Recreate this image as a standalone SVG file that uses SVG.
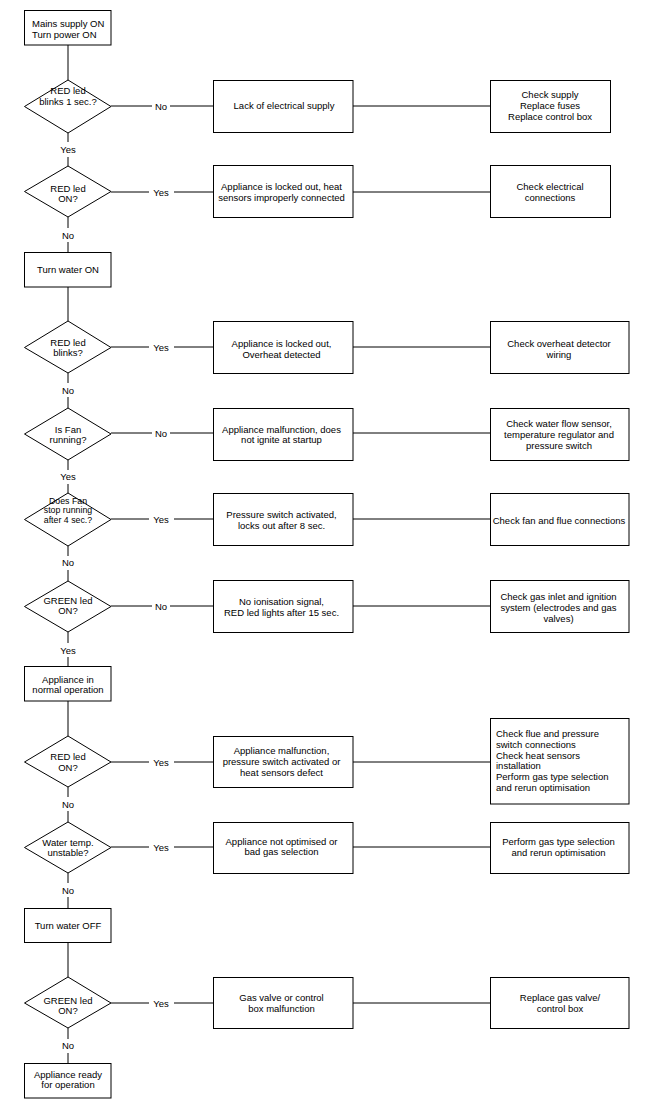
<svg xmlns="http://www.w3.org/2000/svg" width="651" height="1103" viewBox="0 0 651 1103">
<style>
  .box { fill: #ffffff; stroke: #000000; stroke-width: 1; }
  .ln { stroke: #000000; stroke-width: 1; fill: none; }
  text { font-family: "Liberation Sans", Arial, sans-serif; font-size: 9.5px; fill: #000000; }
  .c { text-anchor: middle; }
  .lbl { text-anchor: middle; }
</style>
<rect x="0" y="0" width="651" height="1103" fill="#ffffff"/>

<g id="connectors">
  <!-- vertical main flow -->
  <line class="ln" x1="68" y1="45" x2="68" y2="80"/>
  <line class="ln" x1="68" y1="133" x2="68" y2="142"/>
  <line class="ln" x1="68" y1="157" x2="68" y2="166"/>
  <line class="ln" x1="68" y1="217" x2="68" y2="228"/>
  <line class="ln" x1="68" y1="242" x2="68" y2="252"/>
  <line class="ln" x1="68" y1="287" x2="68" y2="321"/>
  <line class="ln" x1="68" y1="373" x2="68" y2="383"/>
  <line class="ln" x1="68" y1="397" x2="68" y2="408"/>
  <line class="ln" x1="68" y1="460" x2="68" y2="470"/>
  <line class="ln" x1="68" y1="484" x2="68" y2="493"/>
  <line class="ln" x1="68" y1="546" x2="68" y2="556"/>
  <line class="ln" x1="68" y1="570" x2="68" y2="581"/>
  <line class="ln" x1="68" y1="632" x2="68" y2="643"/>
  <line class="ln" x1="68" y1="657" x2="68" y2="666"/>
  <line class="ln" x1="68" y1="701" x2="68" y2="736"/>
  <line class="ln" x1="68" y1="787" x2="68" y2="797"/>
  <line class="ln" x1="68" y1="811" x2="68" y2="822"/>
  <line class="ln" x1="68" y1="873" x2="68" y2="883"/>
  <line class="ln" x1="68" y1="897" x2="68" y2="908"/>
  <line class="ln" x1="68" y1="942" x2="68" y2="977"/>
  <line class="ln" x1="68" y1="1028" x2="68" y2="1039"/>
  <line class="ln" x1="68" y1="1053" x2="68" y2="1063"/>
  <!-- horizontal branches -->
  <line class="ln" x1="111" y1="106" x2="152" y2="106"/><line class="ln" x1="170" y1="106" x2="213" y2="106"/><line class="ln" x1="353" y1="106" x2="490" y2="106"/>
  <line class="ln" x1="111" y1="192" x2="149" y2="192"/><line class="ln" x1="174" y1="192" x2="213" y2="192"/><line class="ln" x1="353" y1="192" x2="490" y2="192"/>
  <line class="ln" x1="111" y1="347" x2="149" y2="347"/><line class="ln" x1="174" y1="347" x2="213" y2="347"/><line class="ln" x1="353" y1="347" x2="490" y2="347"/>
  <line class="ln" x1="111" y1="433" x2="152" y2="433"/><line class="ln" x1="170" y1="433" x2="213" y2="433"/><line class="ln" x1="353" y1="433" x2="490" y2="433"/>
  <line class="ln" x1="111" y1="519" x2="149" y2="519"/><line class="ln" x1="174" y1="519" x2="213" y2="519"/><line class="ln" x1="353" y1="519" x2="490" y2="519"/>
  <line class="ln" x1="111" y1="606" x2="152" y2="606"/><line class="ln" x1="170" y1="606" x2="213" y2="606"/><line class="ln" x1="353" y1="606" x2="490" y2="606"/>
  <line class="ln" x1="111" y1="762" x2="149" y2="762"/><line class="ln" x1="174" y1="762" x2="213" y2="762"/><line class="ln" x1="353" y1="762" x2="490" y2="762"/>
  <line class="ln" x1="111" y1="847" x2="149" y2="847"/><line class="ln" x1="174" y1="847" x2="213" y2="847"/><line class="ln" x1="353" y1="847" x2="490" y2="847"/>
  <line class="ln" x1="111" y1="1003" x2="149" y2="1003"/><line class="ln" x1="174" y1="1003" x2="213" y2="1003"/><line class="ln" x1="353" y1="1003" x2="490" y2="1003"/>
  <!-- labels -->
  <text class="lbl" x="161" y="109.5">No</text>
  <text class="lbl" x="68" y="152.5">Yes</text>
  <text class="lbl" x="161" y="195.5">Yes</text>
  <text class="lbl" x="68" y="238.5">No</text>
  <text class="lbl" x="161" y="350.5">Yes</text>
  <text class="lbl" x="68" y="393.5">No</text>
  <text class="lbl" x="161" y="436.5">No</text>
  <text class="lbl" x="68" y="480">Yes</text>
  <text class="lbl" x="161" y="522.5">Yes</text>
  <text class="lbl" x="68" y="566">No</text>
  <text class="lbl" x="161" y="609.5">No</text>
  <text class="lbl" x="68" y="653.5">Yes</text>
  <text class="lbl" x="161" y="765.5">Yes</text>
  <text class="lbl" x="68" y="807.5">No</text>
  <text class="lbl" x="161" y="850.5">Yes</text>
  <text class="lbl" x="68" y="893.5">No</text>
  <text class="lbl" x="161" y="1006.5">Yes</text>
  <text class="lbl" x="68" y="1049">No</text>
</g>

<!-- left column -->
<g id="start">
  <rect class="box" x="24.5" y="10.5" width="86.5" height="34.5"/>
  <text x="32" y="26.5">Mains supply ON</text>
  <text x="32" y="37.5">Turn power ON</text>
</g>
<g id="d1">
  <polygon class="box" points="68,80 111,106.5 68,133 24.5,106.5"/>
  <text class="c" x="68" y="93.5">RED led</text>
  <text class="c" x="68" y="104.5">blinks 1 sec.?</text>
</g>
<g id="d2">
  <polygon class="box" points="68,166 111,191.5 68,217 24.5,191.5"/>
  <text class="c" x="68" y="191.5">RED led</text>
  <text class="c" x="68" y="201.5">ON?</text>
</g>
<g id="water-on">
  <rect class="box" x="24.5" y="252.5" width="86.5" height="34.5"/>
  <text class="c" x="68" y="272.5">Turn water ON</text>
</g>
<g id="d3">
  <polygon class="box" points="68,321 111,347.5 68,373 24.5,347.5"/>
  <text class="c" x="68" y="346">RED led</text>
  <text class="c" x="68" y="356">blinks?</text>
</g>
<g id="d4">
  <polygon class="box" points="68,408 111,434 68,460 24.5,434"/>
  <text class="c" x="68" y="432.5">Is Fan</text>
  <text class="c" x="68" y="443">running?</text>
</g>
<g id="d5">
  <polygon class="box" points="68,493 111,519.5 68,546 24.5,519.5"/>
  <text class="c" x="68" y="504" style="font-size:8.8px">Does Fan</text>
  <text class="c" x="68" y="513" style="font-size:8.8px">stop running</text>
  <text class="c" x="68" y="522.5" style="font-size:8.8px">after 4 sec.?</text>
</g>
<g id="d6">
  <polygon class="box" points="68,581 111,606.5 68,632 24.5,606.5"/>
  <text class="c" x="68" y="603.5">GREEN led</text>
  <text class="c" x="68" y="614">ON?</text>
</g>
<g id="normal">
  <rect class="box" x="24.5" y="666.5" width="86.5" height="34.5"/>
  <text class="c" x="68" y="682.5">Appliance in</text>
  <text class="c" x="68" y="693">normal operation</text>
</g>
<g id="d7">
  <polygon class="box" points="68,736 111,762 68,787 24.5,762"/>
  <text class="c" x="68" y="760">RED led</text>
  <text class="c" x="68" y="770.5">ON?</text>
</g>
<g id="d8">
  <polygon class="box" points="68,822 111,847.5 68,873 24.5,847.5"/>
  <text class="c" x="68" y="846">Water temp.</text>
  <text class="c" x="68" y="856">unstable?</text>
</g>
<g id="water-off">
  <rect class="box" x="24.5" y="908.5" width="86.5" height="34"/>
  <text class="c" x="68" y="928.5">Turn water OFF</text>
</g>
<g id="d9">
  <polygon class="box" points="68,977 111,1003 68,1028 24.5,1003"/>
  <text class="c" x="68" y="1003.5">GREEN led</text>
  <text class="c" x="68" y="1013.5">ON?</text>
</g>
<g id="ready">
  <rect class="box" x="24.5" y="1063.5" width="86.5" height="34.5"/>
  <text class="c" x="68" y="1078">Appliance ready</text>
  <text class="c" x="68" y="1088">for operation</text>
</g>

<!-- middle column -->
<g id="m1">
  <rect class="box" x="213.5" y="80.5" width="139.5" height="52"/>
  <text class="c" x="284" y="109">Lack of electrical supply</text>
</g>
<g id="m2">
  <rect class="box" x="213.5" y="165.5" width="139.5" height="52"/>
  <text class="c" x="281.5" y="190">Appliance is locked out, heat</text>
  <text class="c" x="281.5" y="200.5">sensors improperly connected</text>
</g>
<g id="m3">
  <rect class="box" x="213.5" y="321.5" width="139.5" height="52"/>
  <text class="c" x="281.5" y="347">Appliance is locked out,</text>
  <text class="c" x="281.5" y="357.5">Overheat detected</text>
</g>
<g id="m4">
  <rect class="box" x="213.5" y="408.5" width="139.5" height="52"/>
  <text class="c" x="281.5" y="432.5">Appliance malfunction, does</text>
  <text class="c" x="281.5" y="443">not ignite at startup</text>
</g>
<g id="m5">
  <rect class="box" x="213.5" y="493.5" width="139.5" height="52"/>
  <text class="c" x="281.5" y="517.5">Pressure switch activated,</text>
  <text class="c" x="281.5" y="528.5">locks out after 8 sec.</text>
</g>
<g id="m6">
  <rect class="box" x="213.5" y="580.5" width="139.5" height="52"/>
  <text class="c" x="281.5" y="604.5">No ionisation signal,</text>
  <text class="c" x="281.5" y="615.5">RED led lights after 15 sec.</text>
</g>
<g id="m7">
  <rect class="box" x="213.5" y="736.5" width="139.5" height="51"/>
  <text class="c" x="281.5" y="754">Appliance malfunction,</text>
  <text class="c" x="281.5" y="764.5">pressure switch activated or</text>
  <text class="c" x="281.5" y="775.5">heat sensors defect</text>
</g>
<g id="m8">
  <rect class="box" x="213.5" y="822.5" width="139.5" height="51"/>
  <text class="c" x="281.5" y="844.5">Appliance not optimised or</text>
  <text class="c" x="281.5" y="855">bad gas selection</text>
</g>
<g id="m9">
  <rect class="box" x="213.5" y="977.5" width="139.5" height="51"/>
  <text class="c" x="281.5" y="1001">Gas valve or control</text>
  <text class="c" x="281.5" y="1012">box malfunction</text>
</g>

<!-- right column -->
<g id="r1">
  <rect class="box" x="490.5" y="80.5" width="120" height="52"/>
  <text class="c" x="550" y="98">Check supply</text>
  <text class="c" x="550" y="109">Replace fuses</text>
  <text class="c" x="550" y="120">Replace control box</text>
</g>
<g id="r2">
  <rect class="box" x="490.5" y="165.5" width="120" height="52"/>
  <text class="c" x="550" y="190">Check electrical</text>
  <text class="c" x="550" y="200.5">connections</text>
</g>
<g id="r3">
  <rect class="box" x="490.5" y="321.5" width="138.5" height="52"/>
  <text class="c" x="559" y="347">Check overheat detector</text>
  <text class="c" x="559" y="357.5">wiring</text>
</g>
<g id="r4">
  <rect class="box" x="490.5" y="408.5" width="138.5" height="52"/>
  <text class="c" x="559" y="427">Check water flow sensor,</text>
  <text class="c" x="559" y="437.5">temperature regulator and</text>
  <text class="c" x="559" y="448.5">pressure switch</text>
</g>
<g id="r5">
  <rect class="box" x="490.5" y="493.5" width="138.5" height="52"/>
  <text class="c" x="559" y="523.5">Check fan and flue connections</text>
</g>
<g id="r6">
  <rect class="box" x="490.5" y="580.5" width="138.5" height="52"/>
  <text class="c" x="558.5" y="600">Check gas inlet and ignition</text>
  <text class="c" x="558.5" y="611">system (electrodes and gas</text>
  <text class="c" x="558.5" y="621.5">valves)</text>
</g>
<g id="r7">
  <rect class="box" x="490.5" y="718.5" width="138.5" height="85.5"/>
  <text x="496" y="737">Check flue and pressure</text>
  <text x="496" y="748">switch connections</text>
  <text x="496" y="758.5">Check heat sensors</text>
  <text x="496" y="769">installation</text>
  <text x="496" y="780">Perform gas type selection</text>
  <text x="496" y="790.5">and rerun optimisation</text>
</g>
<g id="r8">
  <rect class="box" x="490.5" y="822.5" width="138.5" height="51"/>
  <text class="c" x="558.5" y="845">Perform gas type selection</text>
  <text class="c" x="558.5" y="856">and rerun optimisation</text>
</g>
<g id="r9">
  <rect class="box" x="490.5" y="977.5" width="138.5" height="51"/>
  <text class="c" x="560" y="1001">Replace gas valve/</text>
  <text class="c" x="560" y="1012">control box</text>
</g>
</svg>
